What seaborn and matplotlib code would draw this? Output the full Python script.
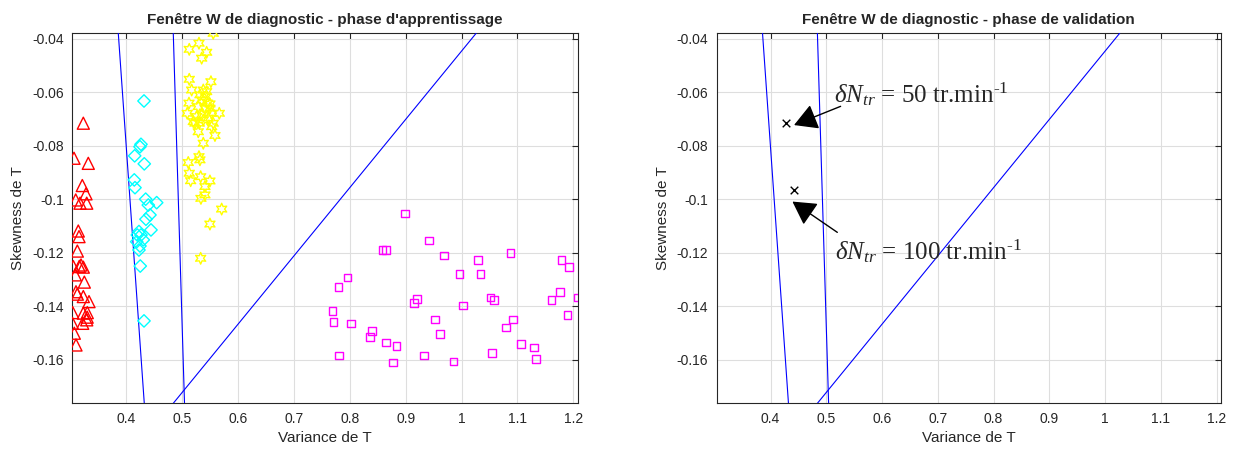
import matplotlib
matplotlib.use("Agg")
import matplotlib.pyplot as plt
from matplotlib.ticker import FuncFormatter
import seaborn as sns
import pandas as pd
import numpy as np

# --- donnees ---
# classe 1 : triangles rouges
c1_var = [0.3231, 0.3064, 0.3320, 0.3213, 0.3279, 0.3095, 0.3172, 0.3292, 0.3141, 0.3154,
          0.3124, 0.3052, 0.3190, 0.3231, 0.3088, 0.3249, 0.3100, 0.3124, 0.3231, 0.3333,
          0.3041, 0.3231, 0.3302, 0.3036, 0.3220, 0.3292, 0.3070, 0.3100, 0.3300, 0.3160]
c1_skew = [-0.0715, -0.0846, -0.0865, -0.0948, -0.0979, -0.1002, -0.1014, -0.1014, -0.1118, -0.1139,
           -0.1193, -0.1251, -0.1245, -0.1253, -0.1282, -0.1309, -0.1345, -0.1354, -0.1363, -0.1382,
           -0.1423, -0.1425, -0.1423, -0.1463, -0.1463, -0.1450, -0.1500, -0.1544, -0.1440, -0.1250]

# classe 2 : losanges cyan
c2_var = [0.4317, 0.4263, 0.4245, 0.4150, 0.4322, 0.4143, 0.4156, 0.4347, 0.4544, 0.4394, 0.4424,
          0.4352, 0.4442, 0.4227, 0.4197, 0.4263, 0.4304, 0.4186, 0.4245, 0.4227, 0.4250, 0.4317]
c2_skew = [-0.0632, -0.0794, -0.0803, -0.0837, -0.0867, -0.0927, -0.0956, -0.0999, -0.1012, -0.1021, -0.1058,
           -0.1074, -0.1114, -0.1120, -0.1133, -0.1133, -0.1151, -0.1158, -0.1174, -0.1189, -0.1249, -0.1454]

# classe 3 : hexagrammes jaunes
c3_var = [0.5556, 0.5301, 0.5127, 0.5438, 0.5349, 0.5127, 0.5515, 0.5170, 0.5378, 0.5318, 0.5420, 0.5122,
          0.5349, 0.5497, 0.5288, 0.5408, 0.5091, 0.5664, 0.5528, 0.5349, 0.5467, 0.5199, 0.5306, 0.5556,
          0.5378, 0.5288, 0.5528, 0.5587, 0.5378, 0.5109, 0.5301, 0.5318, 0.5127, 0.5152, 0.5331, 0.5497,
          0.5408, 0.5336, 0.5408, 0.5707, 0.5497, 0.5331, 0.5438, 0.5456, 0.5259, 0.5497, 0.5229]
c3_skew = [-0.0379, -0.0416, -0.0439, -0.0450, -0.0472, -0.0551, -0.0560, -0.0591, -0.0591, -0.0609, -0.0616, -0.0640,
           -0.0628, -0.0643, -0.0653, -0.0659, -0.0678, -0.0678, -0.0678, -0.0684, -0.0696, -0.0709, -0.0715, -0.0715,
           -0.0703, -0.0747, -0.0728, -0.0761, -0.0790, -0.0862, -0.0840, -0.0852, -0.0902, -0.0930, -0.0915, -0.0931,
           -0.0952, -0.0996, -0.0983, -0.1036, -0.1092, -0.1220, -0.0597, -0.0640, -0.0690, -0.0659, -0.0715]

# classe 4 : carres magenta
c4_var = [0.8986, 0.9420, 0.8587, 0.8646, 0.9689, 1.0297, 1.0876, 1.1789, 1.1920, 0.7961, 0.7800,
          0.9964, 1.0340, 0.9206, 0.9147, 1.0519, 1.0583, 1.1758, 1.1610, 1.2075, 1.0023, 0.7692,
          0.7710, 0.8020, 0.9522, 1.0923, 1.0793, 1.1896, 0.8395, 0.8360, 0.9612, 0.8646, 0.8837,
          1.1066, 1.1299, 1.1335, 1.0549, 0.7810, 0.9331, 0.8777, 0.9857]
c4_skew = [-0.1052, -0.1154, -0.1189, -0.1189, -0.1210, -0.1226, -0.1201, -0.1226, -0.1253, -0.1292, -0.1327,
           -0.1279, -0.1279, -0.1371, -0.1388, -0.1366, -0.1376, -0.1345, -0.1376, -0.1367, -0.1397, -0.1418,
           -0.1458, -0.1463, -0.1449, -0.1449, -0.1479, -0.1432, -0.1492, -0.1515, -0.1502, -0.1535, -0.1548,
           -0.1540, -0.1554, -0.1596, -0.1575, -0.1584, -0.1584, -0.1610, -0.1606]

# frontieres de decision (extremites)
line1_x = [0.3857, 0.4322]
line1_y = [-0.0379, -0.1762]
line2_x = [0.4841, 0.5042]
line2_y = [-0.0379, -0.1762]
line3_x = [1.0261, 0.4841]
line3_y = [-0.0379, -0.1762]

# points de validation
val_var = [0.4279, 0.4429]
val_skew = [-0.0715, -0.0965]
val_labels = [r'$\delta N_{tr}$ = 50 tr.min$^{\text{-1}}$',
              r'$\delta N_{tr}$ = 100 tr.min$^{\text{-1}}$']
label_pos_x = [0.5145, 0.5160]
label_pos_y = [-0.0605, -0.1192]
arrow_tail_x = [0.5257, 0.5198]
arrow_tail_y = [-0.0652, -0.1123]
arrow_head_x = [0.4422, 0.4393]
arrow_head_y = [-0.0722, -0.1008]

xlim = (0.3034, 1.2079)
ylim = (-0.1762, -0.0379)
xticks = [0.4, 0.5, 0.6, 0.7, 0.8, 0.9, 1.0, 1.1, 1.2]
yticks = [-0.16, -0.14, -0.12, -0.10, -0.08, -0.06, -0.04]

sns.set_style('white')
plt.rcParams['font.family'] = ['Liberation Sans', 'DejaVu Sans']
plt.rcParams['mathtext.fontset'] = 'custom'
plt.rcParams['mathtext.rm'] = 'Liberation Serif'
plt.rcParams['mathtext.it'] = 'Liberation Serif:italic'

fig = plt.figure(figsize=(12.36, 4.53), dpi=100)
ax1 = fig.add_axes([0.0585, 0.1097, 0.4089, 0.8168])
ax2 = fig.add_axes([0.5798, 0.1097, 0.4081, 0.8168])

hexagram = (6, 1, 0)


def style_axes(ax, title):
    ax.set_xlim(*xlim)
    ax.set_ylim(*ylim)
    ax.set_xticks(xticks)
    ax.set_yticks(yticks)
    fmt = FuncFormatter(lambda v, p: '%g' % round(v, 4))
    ax.xaxis.set_major_formatter(fmt)
    ax.yaxis.set_major_formatter(fmt)
    ax.grid(True, color='#dedede', linewidth=0.8)
    ax.set_axisbelow(True)
    ax.tick_params(direction='in', top=True, right=True, length=4, width=0.8,
                   labelsize=10, colors='#262626', pad=6)
    for s in ax.spines.values():
        s.set_color('#262626')
        s.set_linewidth(0.8)
    ax.set_xlabel('Variance de T', fontsize=11, color='#262626', labelpad=4)
    ax.set_ylabel('Skewness de T', fontsize=11, color='#262626', labelpad=5)
    ax.set_title(title, fontsize=11, fontweight='bold', pad=7)


for ax in (ax1, ax2):
    for lx, ly in [(line1_x, line1_y), (line2_x, line2_y), (line3_x, line3_y)]:
        ax.plot(lx, ly, color='#0000ff', linewidth=0.8, zorder=3)

# phase d'apprentissage
sns.scatterplot(x=c1_var, y=c1_skew, ax=ax1, marker='^', s=75, color='red',
                facecolor='none', edgecolor='red', linewidth=1, zorder=4)
sns.scatterplot(x=c2_var, y=c2_skew, ax=ax1, marker='D', s=40, color='cyan',
                facecolor='none', edgecolor='#00ffff', linewidth=1, zorder=4)
sns.scatterplot(x=c3_var, y=c3_skew, ax=ax1, marker=hexagram, s=70, color='yellow',
                facecolor='none', edgecolor='#ffff00', linewidth=1, zorder=4)
sns.scatterplot(x=c4_var, y=c4_skew, ax=ax1, marker='s', s=30, color='magenta',
                facecolor='none', edgecolor='#ff00ff', linewidth=1, zorder=4)
style_axes(ax1, "Fenêtre W de diagnostic - phase d'apprentissage")

# phase de validation
sns.scatterplot(x=val_var, y=val_skew, ax=ax2, marker='x', s=30, color='black',
                linewidth=1, zorder=4)
for i in range(len(val_var)):
    ax2.annotate('', xy=(arrow_head_x[i], arrow_head_y[i]),
                 xytext=(arrow_tail_x[i], arrow_tail_y[i]),
                 arrowprops=dict(arrowstyle='-|>,head_length=0.8,head_width=0.45',
                                 color='black', lw=1, mutation_scale=18,
                                 shrinkA=0, shrinkB=0))
    ax2.text(label_pos_x[i], label_pos_y[i], val_labels[i], fontsize=18,
             ha='left', va='center', family='Liberation Serif')
style_axes(ax2, 'Fenêtre W de diagnostic - phase de validation')

fig.savefig('out.png', dpi=100)
